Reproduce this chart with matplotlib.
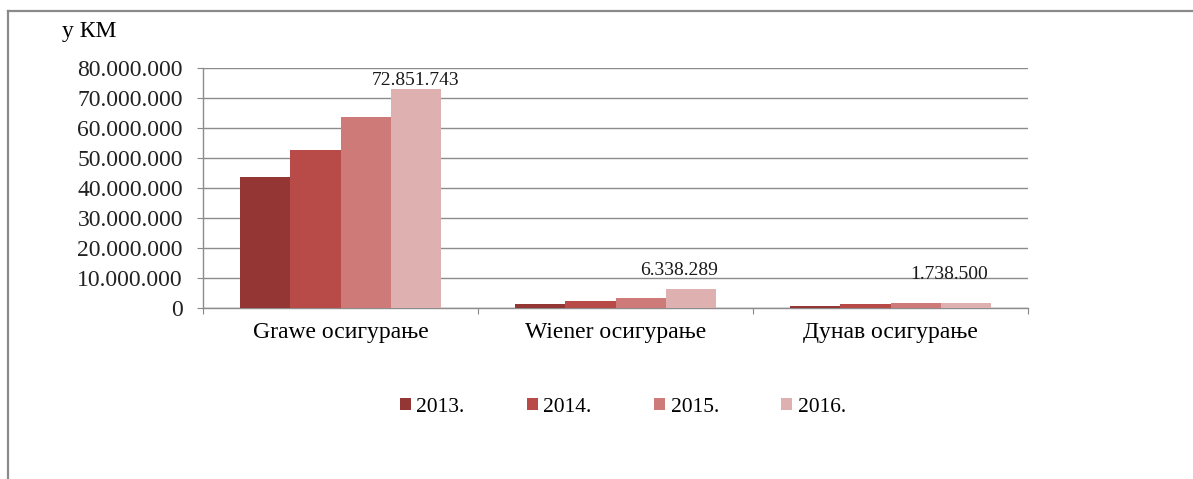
import numpy as np
import matplotlib
matplotlib.use('Agg')
from matplotlib import pyplot as plt
from matplotlib.lines import Line2D
from matplotlib.ticker import FuncFormatter

companies = ['Grawe осигурање', 'Wiener осигурање', 'Дунав осигурање']
years = ['2013.', '2014.', '2015.', '2016.']
v2013 = [43800000, 1300000, 800000]
v2014 = [52700000, 2200000, 1400000]
v2015 = [63800000, 3400000, 1500000]
v2016 = [72851743, 6338289, 1738500]
colors = ['#943634', '#b84a48', '#cd7a78', '#deb0b0']

plt.rcParams['font.family'] = ['Liberation Serif', 'DejaVu Serif']

fig = plt.figure(figsize=(11.93, 4.79), dpi=100)
ax = fig.add_axes([0.1702, 0.357, 0.6915, 0.501])

x = np.arange(len(companies))
w = 0.182
series = [v2013, v2014, v2015, v2016]
bars = []
for i, vals in enumerate(series):
    b = ax.bar(x + (i - 1.5) * w, vals, w, color=colors[i], label=years[i], zorder=3)
    bars.append(b)

def fmt(v):
    return '{:,}'.format(int(v)).replace(',', '.')

# only last year gets value labels, excel put them at odd heights
offsets = [(0, 0), (-8, 7), (-12, 14)]
for rect, v, off in zip(bars[3], v2016, offsets):
    ax.annotate(fmt(v), (rect.get_x() + rect.get_width() / 2, v),
                xytext=off, textcoords='offset points',
                ha='center', va='bottom', fontsize=14, color='#1a1a1a')

ax.set_xlim(-0.5, 2.5)
ax.set_ylim(0, 80000000)
ax.set_yticks(np.arange(0, 80000001, 10000000))
ax.yaxis.set_major_formatter(FuncFormatter(lambda v, p: fmt(v)))
ax.set_xticks([-0.5, 0.5, 1.5, 2.5], minor=False)
ax.set_xticklabels([])
ax.set_xticks(x, minor=True)
ax.set_xticklabels(companies, minor=True)
ax.tick_params(axis='x', which='minor', length=0, pad=10, labelsize=17)
ax.tick_params(axis='x', which='major', length=4.5, color='#888888')
ax.tick_params(axis='y', length=4.5, color='#888888', labelsize=17, pad=10, labelcolor='#222222')
ax.grid(axis='y', color='#8c8c8c', linewidth=1, zorder=0)
for s in ['top', 'right']:
    ax.spines[s].set_visible(False)
for s in ['left', 'bottom']:
    ax.spines[s].set_color('#8c8c8c')
    ax.spines[s].set_linewidth(1)

fig.text(62 / 1193, 1 - 32 / 479, 'у КМ', fontsize=17, va='center', ha='left')

fig.legend(loc='center', bbox_to_anchor=(0.522, 0.150), ncol=4, frameon=False,
           handlelength=0.52, handleheight=0.52, handletextpad=0.25,
           columnspacing=2.9, fontsize=15.5)

# outer frame of the chart area
fig.add_artist(Line2D([8 / 1193, 8 / 1193], [0, 1 - 11 / 479], color='#8a8a8a', lw=1.6))
fig.add_artist(Line2D([8 / 1193, 1], [1 - 11 / 479, 1 - 11 / 479], color='#8a8a8a', lw=1.6))

fig.savefig('out.png', dpi=100)
